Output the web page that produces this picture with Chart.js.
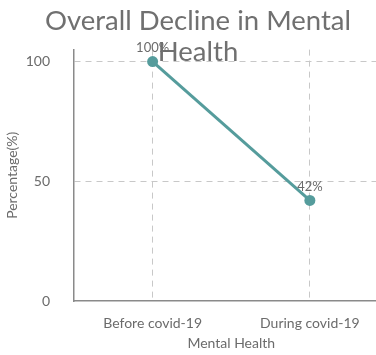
<!DOCTYPE html>
<html>
<head>
<meta charset="utf-8">
<script src="https://cdn.jsdelivr.net/npm/chart.js@4"></script>
<style>
  html, body { margin: 0; padding: 0; background: #fff; overflow: hidden; }
  #wrap { width: 394px; height: 355px; }
</style>
</head>
<body>
<div id="wrap"><canvas id="healthChart"></canvas></div>
<script>
const periods = ["Before covid-19", "During covid-19"];
const percentages = [100, 42];
const yTicks = [0, 50, 100];

const textGray = "#6b6b6b";
const teal = "#559c9c";
const gridGray = "#c8c8c8";

// writes "NN%" just above each point
const valueLabels = {
  id: "valueLabels",
  afterDatasetsDraw(chart) {
    const ctx = chart.ctx;
    const meta = chart.getDatasetMeta(0);
    ctx.save();
    ctx.font = "13px Lato";
    ctx.fillStyle = textGray;
    ctx.textAlign = "center";
    ctx.textBaseline = "middle";
    meta.data.forEach((pt, i) => {
      ctx.fillText(percentages[i] + "%", pt.x, pt.y - 14);
    });
    ctx.restore();
  }
};

const ctx = document.getElementById("healthChart").getContext("2d");
new Chart(ctx, {
  type: "line",
  data: {
    labels: periods,
    datasets: [{
      data: percentages,
      borderColor: teal,
      backgroundColor: teal,
      borderWidth: 3,
      pointRadius: 5.5,
      pointBackgroundColor: teal,
      pointBorderWidth: 0,
      tension: 0
    }]
  },
  plugins: [valueLabels],
  options: {
    responsive: true,
    maintainAspectRatio: false,
    animation: false,
    layout: { padding: { left: 0, right: -2, top: 0, bottom: 0 } },
    plugins: {
      legend: { display: false },
      tooltip: { enabled: false },
      title: {
        display: true,
        text: ["Overall Decline in Mental", "Health"],
        color: "#707070",
        font: { family: "Lato", size: 27.5, weight: "normal", lineHeight: 1.12 },
        padding: { top: 6, bottom: -18 }
      }
    },
    scales: {
      x: {
        offset: true,
        afterFit(scale) { scale.height = 54; },
        grid: {
          offset: false,
          drawTicks: false,
          color: gridGray,
          lineWidth: 1
        },
        border: { display: true, color: "#8a8a8a", width: 1.5, dash: [6, 5] },
        ticks: {
          color: textGray,
          font: { family: "Lato", size: 14 },
          padding: 14
        },
        title: {
          display: true,
          text: "Mental Health",
          color: textGray,
          font: { family: "Lato", size: 14 },
          padding: { top: 0, bottom: 3 }
        }
      },
      y: {
        min: 0,
        max: 105,
        afterBuildTicks(scale) {
          scale.ticks = yTicks.map(v => ({ value: v }));
        },
        afterFit(scale) { scale.width = 74; },
        grid: {
          drawTicks: false,
          color: (c) => (c.tick && c.tick.value === 0 ? "rgba(0,0,0,0)" : gridGray),
          lineWidth: 1
        },
        border: { display: true, color: "#8a8a8a", width: 1.5, dash: [6, 5] },
        ticks: {
          color: textGray,
          font: { family: "Lato", size: 14 },
          padding: 24
        },
        title: {
          display: true,
          text: "Percentage(%)",
          color: textGray,
          font: { family: "Lato", size: 14 },
          padding: { top: 4, bottom: 4 }
        }
      }
    }
  }
});
</script>
</body>
</html>
